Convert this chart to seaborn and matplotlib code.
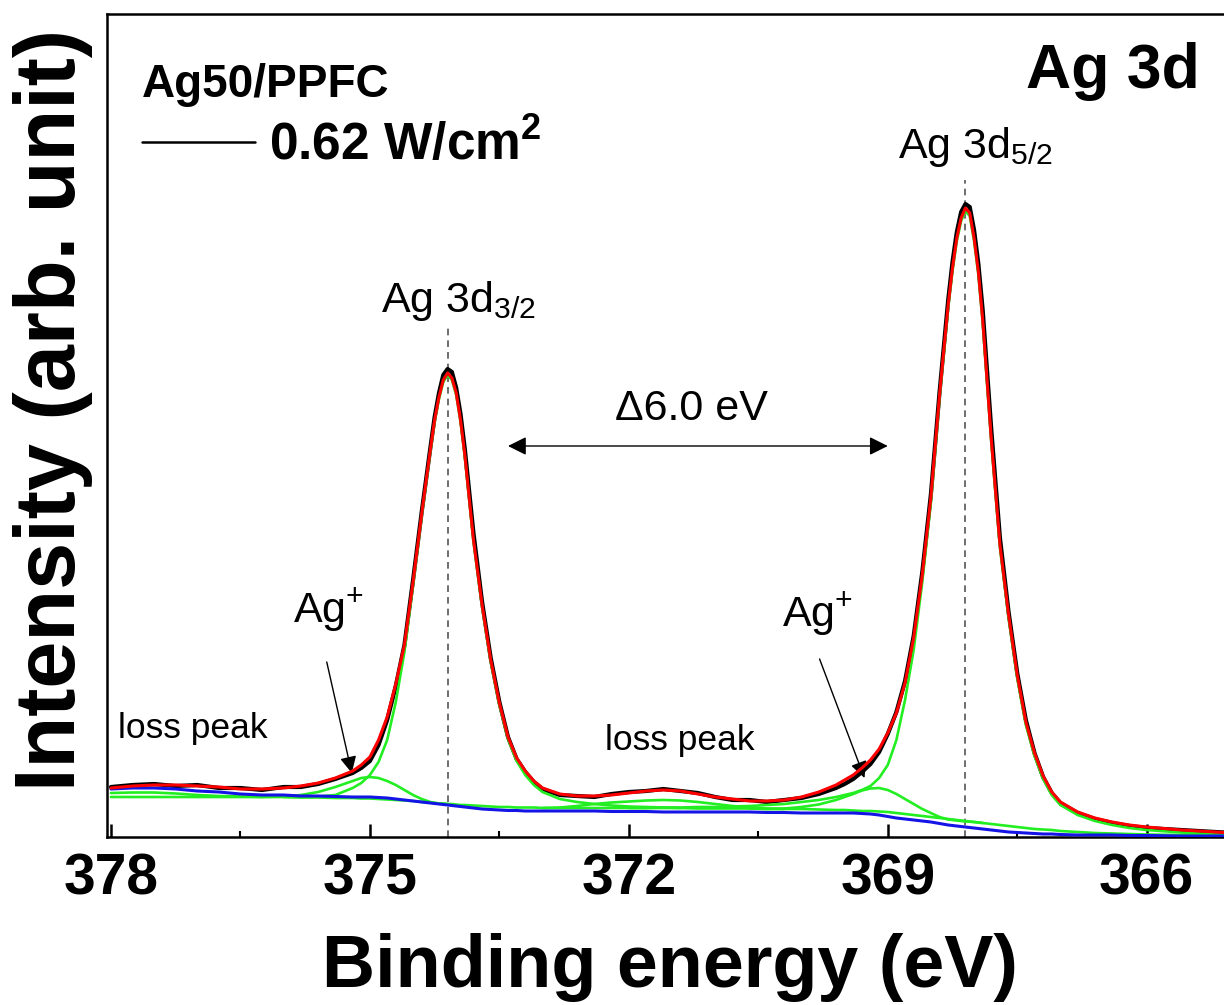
import numpy as np
import pandas as pd
import matplotlib
matplotlib.use("Agg")
import matplotlib.pyplot as plt
import seaborn as sns
from matplotlib.ticker import MultipleLocator
from matplotlib.lines import Line2D

# ---------------- data (binding energy in eV, intensity in arb. units) ----------------
energy = [378.0, 377.75, 377.5, 377.25, 377.0, 376.75, 376.5, 376.25, 376.0, 375.8,
          375.6, 375.4, 375.2, 375.1, 375.0, 374.9, 374.8, 374.7, 374.6, 374.5,
          374.4, 374.3, 374.25, 374.2, 374.15, 374.1, 374.05, 374.0, 373.95, 373.9,
          373.8, 373.7, 373.6, 373.5, 373.4, 373.3, 373.2, 373.1, 373.0, 372.8,
          372.6, 372.4, 372.2, 372.0, 371.8, 371.6, 371.4, 371.2, 371.0, 370.8,
          370.6, 370.4, 370.2, 370.0, 369.8, 369.6, 369.5, 369.4, 369.3, 369.2,
          369.1, 369.0, 368.9, 368.8, 368.7, 368.6, 368.5, 368.4, 368.3, 368.25,
          368.2, 368.15, 368.1, 368.05, 368.0, 367.95, 367.9, 367.8, 367.7, 367.6,
          367.5, 367.4, 367.3, 367.2, 367.1, 367.0, 366.8, 366.6, 366.4, 366.2,
          366.0, 365.6, 365.2, 365.0]

measured = [50, 52, 53, 51, 52, 49, 49, 47, 50, 50,
            53, 58, 64, 69, 76, 92, 117, 151, 192, 257,
            325, 389, 420, 444, 462, 468, 465, 449, 423, 388,
            304, 235, 179, 135, 100, 78, 65, 55, 48, 42,
            41, 40, 43, 45, 46, 48, 46, 44, 40, 37,
            37, 35, 37, 39, 43, 49, 53, 58, 65, 73,
            85, 103, 125, 156, 201, 265, 343, 445, 537, 575,
            605, 625, 633, 630, 607, 573, 527, 407, 299, 225,
            164, 117, 84, 60, 44, 34, 24, 18, 14, 11,
            9, 7, 5, 4]

envelope = [49, 51, 52, 52, 51, 50, 48, 48, 49, 51,
            54, 59, 66, 72, 80, 97, 120, 153, 192, 255,
            323, 387, 417, 440, 457, 464, 459, 444, 417, 382,
            297, 232, 177, 134, 100, 79, 66, 56, 49, 43,
            41, 41, 42, 44, 46, 47, 46, 43, 40, 38,
            36, 36, 37, 40, 45, 52, 57, 62, 69, 77,
            88, 104, 124, 154, 199, 262, 340, 442, 532, 569,
            599, 619, 629, 624, 599, 565, 517, 397, 292, 222,
            162, 115, 84, 61, 45, 35, 25, 19, 15, 12,
            10, 7, 5, 4]

background = [48, 49, 49, 48, 46, 45, 43, 42, 42, 41,
              41, 40.5, 40, 40, 40, 39.5, 39, 38, 37, 36,
              35, 34, 33.5, 33, 32.5, 32, 31.5, 31, 30.5, 30,
              29, 28, 27.5, 27, 26.5, 26.5, 26, 26, 26, 26,
              26, 26, 25.5, 25.5, 25.5, 25, 25, 25, 25, 25,
              25, 24.5, 24.5, 24, 24, 24, 24, 24, 23.5, 23,
              22, 20.5, 19, 18, 17, 16, 15, 13.5, 12, 11.5,
              11, 10.5, 10, 9.5, 9, 8.5, 8, 7, 6, 5,
              4.5, 4, 3.5, 3, 3, 2.5, 2, 2, 2, 1.5,
              1.5, 1, 1, 1]

fit_base = [40, 40, 40, 40, 40, 40, 40, 40, 40, 39.5,
            39.5, 39, 39, 38.5, 38.5, 38, 37.5, 37, 36.5, 36,
            35, 34.5, 34, 33.5, 33.5, 33, 33, 32.5, 32, 32,
            31.5, 31, 30.5, 30, 30, 29.5, 29.5, 29.5, 29, 29,
            29, 29, 29, 29, 29, 29, 29, 28.5, 28.5, 28.5,
            28.5, 28, 28, 28, 27.5, 27, 27, 26.5, 26, 26,
            25.5, 25, 24, 23, 22, 21, 20, 19, 18, 17.5,
            17, 16.5, 16, 15.5, 15, 14.5, 14, 13, 12, 11,
            10, 9, 8, 7.5, 7, 6, 5, 4, 3.5, 3,
            2.5, 2, 1.5, 1]

# fitted components (green)
loss1_E = [378.0, 377.75, 377.5, 377.25, 377.0, 376.75, 376.5, 376.25]
loss1_I = [44, 44.5, 44.5, 43.5, 42, 41, 40.5, 40]

agp32_E = [376.25, 376.0, 375.8, 375.6, 375.4, 375.2, 375.1, 375.0, 374.9, 374.8,
           374.7, 374.6, 374.5, 374.4, 374.3, 374.2, 374.1]
agp32_I = [40, 40.5, 42, 45, 50, 56, 59, 60, 59, 56,
           52, 47, 42, 38, 35, 33.5, 33]

ag32_E = [376.0, 375.8, 375.6, 375.4, 375.2, 375.1, 375.0, 374.9, 374.8, 374.7,
          374.6, 374.5, 374.4, 374.3, 374.25, 374.2, 374.15, 374.1, 374.05, 374.0,
          373.95, 373.9, 373.8, 373.7, 373.6, 373.5, 373.4, 373.3, 373.2, 373.1,
          373.0, 372.8, 372.6, 372.4, 372.2, 372.0, 371.8, 371.6, 371.4]
ag32_I = [40, 40, 40.5, 42, 49, 54, 62, 75, 97, 135,
          185, 252, 321, 385, 415, 438, 455, 462, 457, 442,
          415, 380, 295, 230, 175, 132, 98, 76, 62, 52,
          45, 38, 35, 33, 31.5, 30.5, 30, 29.5, 29]

loss2_E = [373.0, 372.8, 372.6, 372.4, 372.2, 372.0, 371.8, 371.6, 371.4, 371.2,
           371.0, 370.8, 370.6, 370.4, 370.2]
loss2_I = [29, 29.5, 31, 33, 34.5, 35.5, 36.5, 37, 36.5, 35,
           33, 31, 29.5, 28.5, 28]

agp52_E = [370.6, 370.4, 370.2, 370.0, 369.8, 369.6, 369.5, 369.4, 369.3, 369.2,
           369.1, 369.0, 368.9, 368.8, 368.7, 368.6, 368.5, 368.4, 368.3, 368.2,
           368.1, 368.0, 367.9]
agp52_I = [28.5, 28, 28.5, 30, 32.5, 37, 40, 43, 46.5, 48.5,
           49, 47, 43, 38, 33, 28, 24, 20, 17.5, 16.5,
           15.5, 15, 14]

ag52_E = [372.0, 371.8, 371.6, 371.4, 371.2, 371.0, 370.8, 370.6, 370.4, 370.2,
          370.0, 369.8, 369.6, 369.5, 369.4, 369.3, 369.2, 369.1, 369.0, 368.9,
          368.8, 368.7, 368.6, 368.5, 368.4, 368.3, 368.25, 368.2, 368.15, 368.1,
          368.05, 368.0, 367.95, 367.9, 367.8, 367.7, 367.6, 367.5, 367.4, 367.3,
          367.2, 367.1, 367.0, 366.8, 366.6, 366.4, 366.2, 366.0, 365.6, 365.2,
          365.0]
ag52_I = [29, 29, 29.5, 29.5, 30, 30, 30.5, 31, 32, 33,
          35, 37, 40, 42, 44, 47, 51, 59, 72, 97,
          137, 187, 255, 335, 439, 529, 566, 596, 616, 626,
          621, 596, 562, 514, 394, 289, 219, 159, 112, 81,
          58, 42, 32, 22, 16, 12, 9, 7, 4.5, 2.5,
          1.5]

peak_positions = [374.1, 368.1]          # Ag 3d3/2, Ag 3d5/2
peak_marker_tops = [510, 657]
tick_values = [378, 375, 372, 369, 366]
tick_labels = ["378", "375", "372", "369", "366"]

# ---------------- styling ----------------
sns.set_theme(style="white")
plt.rcParams["font.family"] = ["Liberation Sans", "DejaVu Sans"]
plt.rcParams["mathtext.fontset"] = "custom"
plt.rcParams["mathtext.rm"] = "Liberation Sans"
plt.rcParams["mathtext.it"] = "Liberation Sans:italic"
plt.rcParams["mathtext.bf"] = "Liberation Sans:bold"
for key in ["text.color", "axes.labelcolor", "xtick.color", "ytick.color", "axes.edgecolor"]:
    plt.rcParams[key] = "black"

fig = plt.figure(figsize=(12.24, 10.05), dpi=100)
ax = fig.add_axes([107 / 1224, 168 / 1005, 1126 / 1224, 823 / 1005])

GREEN = "#22EE22"
BLUE = "#1414E6"
RED = "#FF0000"


def draw(x, y, color, lw, z):
    sns.lineplot(x=x, y=y, color=color, lw=lw, ax=ax, zorder=z,
                 estimator=None, sort=False, legend=False)


draw(energy, measured, "black", 3.0, 2)
draw(energy, fit_base, GREEN, 1.9, 3)
for ex, iy in [(loss1_E, loss1_I), (agp32_E, agp32_I), (ag32_E, ag32_I),
               (loss2_E, loss2_I), (agp52_E, agp52_I), (ag52_E, ag52_I)]:
    draw(ex, iy, GREEN, 1.9, 3)
draw(energy, background, BLUE, 2.2, 4)
draw(energy, envelope, RED, 2.2, 5)

ax.vlines(peak_positions, 0, peak_marker_tops, colors="#555555",
          linestyles=(0, (4, 3)), lw=1.2, zorder=1)

# ---------------- axes ----------------
ax.set_xlim(378.046, 365.0)
ax.set_ylim(0, 823)
ax.set_yticks([])
ax.set_xticks(tick_values, labels=tick_labels, fontweight="bold")
ax.xaxis.set_minor_locator(MultipleLocator(1.5))
ax.tick_params(axis="x", which="major", direction="in", length=9.5, width=1.8,
               labelsize=41, pad=11, bottom=True, top=False, colors="black")
ax.tick_params(axis="x", which="minor", direction="in", length=4.5, width=1.5,
               bottom=True, top=False, color="black")
for sp in ax.spines.values():
    sp.set_color("black")
    sp.set_linewidth(1.8)

ax.set_xlabel("Binding energy (eV)", fontsize=53, fontweight="bold", labelpad=19)
ax.set_ylabel("Intensity (arb. unit)", fontsize=61, fontweight="bold")
ax.yaxis.set_label_coords(-0.012, 0.519)
ax.yaxis.label.set_va("bottom")

# ---------------- annotations ----------------
ax.text(0.031, 0.899, "Ag50/PPFC", transform=ax.transAxes, fontsize=33,
        fontweight="bold", ha="left", va="baseline")
leg = ax.legend(handles=[Line2D([], [], color="black", lw=1.8)],
                labels=[r"0.62 W/cm$^{\mathbf{2}}$"],
                prop={"weight": "bold", "size": 37}, frameon=False,
                loc="center left", bbox_to_anchor=(0.031, 0.84),
                borderaxespad=0, borderpad=0, handlelength=2.2, handletextpad=0.28)

ax.text(0.9707, 0.910, "Ag 3d", transform=ax.transAxes, fontsize=45,
        fontweight="bold", ha="right", va="baseline")

ax.text(368.88, 679, r"Ag 3d$_{5/2}$", fontsize=31, ha="left", va="baseline")
ax.text(374.87, 525, r"Ag 3d$_{3/2}$", fontsize=31, ha="left", va="baseline")
ax.text(371.27, 417, "\u03946.0 eV", fontsize=31, ha="center", va="baseline")
ax.annotate("", xy=(369.0, 391), xytext=(373.4, 391),
            arrowprops=dict(arrowstyle="<|-|>", color="black", lw=1.0,
                            mutation_scale=28, shrinkA=0, shrinkB=0))

ax.text(375.89, 215, r"Ag$^{+}$", fontsize=31, ha="left", va="baseline")
ax.text(370.22, 211, r"Ag$^{+}$", fontsize=31, ha="left", va="baseline")
ax.annotate("", xy=(375.21, 64), xytext=(375.5, 175),
            arrowprops=dict(arrowstyle="-|>", color="black", lw=1.0,
                            mutation_scale=25, shrinkA=0, shrinkB=0))
ax.annotate("", xy=(369.27, 59), xytext=(369.79, 178),
            arrowprops=dict(arrowstyle="-|>", color="black", lw=1.0,
                            mutation_scale=25, shrinkA=0, shrinkB=0))

ax.text(377.92, 99, "loss peak", fontsize=25.5, ha="left", va="baseline")
ax.text(372.28, 87, "loss peak", fontsize=25.5, ha="left", va="baseline")

fig.savefig("out.png", dpi=100)
